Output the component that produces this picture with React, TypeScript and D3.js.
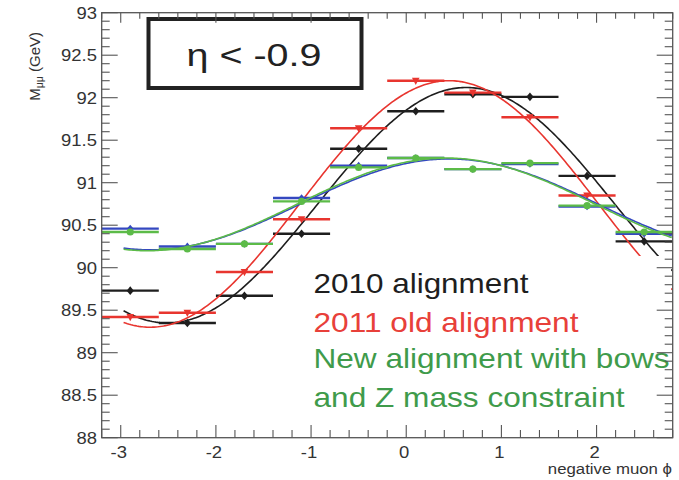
import React from "react";
import * as d3 from "d3";

// Bin centres of negative muon phi (bins are 0.6 wide)
const phiBins = [-2.9, -2.3, -1.7, -1.1, -0.5, 0.1, 0.7, 1.3, 1.9, 2.5];
const binHalfWidth = 0.3;

// Dimuon mass per phi bin (GeV)
const mass2010 = [89.73, 89.35, 89.67, 90.4, 91.4, 91.84, 92.04, 92.01, 91.08, 90.31];
const mass2011Old = [89.42, 89.47, 89.95, 90.57, 91.64, 92.2, 92.06, 91.77, 90.85, null];
const massNewBlue = [90.46, 90.25, 90.28, 90.82, 91.2, 91.29, 91.16, 91.22, 90.72, 90.4];
const massNewGreen = [90.42, 90.22, 90.28, 90.78, 91.18, 91.29, 91.16, 91.23, 90.73, 90.42];

// Sinusoidal fit parameters: mean + amplitude * cos(phi - phase)
const fitMean = [90.735, 90.75, 90.745, 90.745];
const fitAmplitude = [1.385, 1.45, 0.535, 0.545];
const fitPhase = [0.63, 0.45, 0.45, 0.42];

const yTickLabels = ["88", "88.5", "89", "89.5", "90", "90.5", "91", "91.5", "92", "92.5", "93"];
const xTickLabels = ["-3", "-2", "-1", "0", "1", "2"];

const legendLines = [
  "2010 alignment",
  "2011 old alignment",
  "New alignment with bows",
  "and Z mass constraint",
];

const W = 679;
const H = 480;
const frame = { left: 101.7, right: 672.7, top: 12.7, bottom: 437.7 };
const SX = 1.12; // horizontal text stretch
const FONT = "'Liberation Sans', Arial, sans-serif";

const COLORS = {
  black: "#1e1e1e",
  red: "#e8352f",
  blue: "#3448c0",
  green: "#5cbb48",
};

const x = d3.scaleLinear().domain([-3.2, 2.8]).range([frame.left, frame.right]);
const y = d3.scaleLinear().domain([88, 93]).range([frame.bottom, frame.top]);

function StretchText(props: {
  x: number;
  y: number;
  anchor?: "start" | "middle" | "end";
  size: number;
  fill?: string;
  children: React.ReactNode;
}) {
  return (
    <text
      transform={`translate(${props.x},${props.y}) scale(${SX},1)`}
      textAnchor={props.anchor || "start"}
      fontSize={props.size}
      fontFamily={FONT}
      fill={props.fill || "#333"}
    >
      {props.children}
    </text>
  );
}

function Series(props: {
  values: (number | null)[];
  color: string;
  marker: "circle" | "diamond" | "triangle";
  size: number;
  fitIndex: number;
  barWidth: number;
}) {
  const { values, color, marker, size, fitIndex, barWidth } = props;
  const phis = d3.range(-2.97, 2.81, 0.02);
  const line = d3
    .line<number>()
    .x((p) => x(p))
    .y((p) => y(fitMean[fitIndex] + fitAmplitude[fitIndex] * Math.cos(p - fitPhase[fitIndex])))
    .curve(d3.curveLinear);
  return (
    <g>
      <path d={line(phis) || ""} fill="none" stroke={color} strokeWidth={1.6} clipPath="url(#plotClip)" />
      {phiBins.map((phi, i) => {
        const v = values[i];
        if (v == null) return null;
        const cx = x(phi);
        const cy = y(v);
        let m: React.ReactNode;
        if (marker === "circle") m = <circle cx={cx} cy={cy} r={size} fill={color} />;
        else if (marker === "diamond")
          m = (
            <path
              d={`M${cx},${cy - size * 1.2}L${cx + size},${cy}L${cx},${cy + size * 1.2}L${cx - size},${cy}Z`}
              fill={color}
            />
          );
        else
          m = (
            <path
              d={`M${cx - size},${cy - size * 0.8}L${cx + size},${cy - size * 0.8}L${cx},${cy + size * 1.1}Z`}
              fill={color}
            />
          );
        return (
          <g key={i}>
            <line
              x1={x(phi - binHalfWidth)}
              x2={x(phi + binHalfWidth)}
              y1={cy}
              y2={cy}
              stroke={color}
              strokeWidth={barWidth}
            />
            {m}
          </g>
        );
      })}
    </g>
  );
}

export default function App() {
  const yMajor = d3.range(88, 93.001, 0.5);
  const yMinor = d3.range(88, 93.001, 0.1);
  const xMajor = d3.range(-3, 2.001, 1);
  const xMinor = d3.range(-3.2, 2.801, 0.2);
  const axisColor = "#555";

  return (
    <svg
      width={W}
      height={H}
      style={{ position: "fixed", left: 0, top: 0, background: "#fff" }}
    >
      <defs>
        <clipPath id="plotClip">
          <rect x={frame.left} y={frame.top} width={frame.right - frame.left} height={frame.bottom - frame.top} />
        </clipPath>
      </defs>
      <rect width={W} height={H} fill="#fff" />

      <Series values={mass2010} color={COLORS.black} marker="diamond" size={3.6} fitIndex={0} barWidth={2.4} />
      <Series values={mass2011Old} color={COLORS.red} marker="triangle" size={3.8} fitIndex={1} barWidth={2.4} />
      <Series values={massNewBlue} color={COLORS.blue} marker="diamond" size={3.2} fitIndex={2} barWidth={2.4} />
      <Series values={massNewGreen} color={COLORS.green} marker="circle" size={3.6} fitIndex={3} barWidth={2.4} />

      {/* Legend area */}
      <rect x={300} y={256} width={371} height={180} fill="#fff" />
      {legendLines.map((t, i) => {
        const fills = [COLORS.black, "#e8403a", "#3f9b4b", "#3f9b4b"];
        const lengths = [215, 265, 356, 311];
        const baselines = [293.3, 331.7, 368.3, 406.7];
        return (
          <text
            key={t}
            x={313.5}
            y={baselines[i]}
            fontSize={28}
            fontFamily={FONT}
            fill={fills[i]}
            textLength={lengths[i]}
            lengthAdjust="spacingAndGlyphs"
          >
            {t}
          </text>
        );
      })}

      {/* Eta selection box */}
      <rect x={148.5} y={19} width={213} height={69} fill="#fff" stroke="#222" strokeWidth={4} />
      <text
        x={254}
        y={66}
        textAnchor="middle"
        fontSize={32}
        fontFamily={FONT}
        fill="#222"
        textLength={135}
        lengthAdjust="spacingAndGlyphs"
      >
        η &lt; -0.9
      </text>

      {/* Frame */}
      <rect
        x={frame.left}
        y={frame.top}
        width={frame.right - frame.left}
        height={frame.bottom - frame.top}
        fill="none"
        stroke={axisColor}
        strokeWidth={1.3}
      />

      {/* Y ticks, left and right */}
      {yMinor.map((v, i) => {
        const isMajor = Math.abs(v * 2 - Math.round(v * 2)) < 1e-6;
        const len = isMajor ? 16 : 8;
        return (
          <g key={"yt" + i} stroke={axisColor} strokeWidth={1.1}>
            <line x1={frame.left} x2={frame.left + len} y1={y(v)} y2={y(v)} />
            <line x1={frame.right} x2={frame.right - len} y1={y(v)} y2={y(v)} />
          </g>
        );
      })}
      {/* X ticks, bottom and top */}
      {xMinor.map((v, i) => {
        const isMajor = Math.abs(v - Math.round(v)) < 1e-6;
        const len = isMajor ? 12.7 : 7.7;
        return (
          <g key={"xt" + i} stroke={axisColor} strokeWidth={1.1}>
            <line x1={x(v)} x2={x(v)} y1={frame.bottom} y2={frame.bottom - len} />
            <line x1={x(v)} x2={x(v)} y1={frame.top} y2={frame.top + len * 0.8} />
          </g>
        );
      })}

      {yMajor.map((v, i) => (
        <StretchText key={"yl" + i} x={97} y={y(v) + 6} anchor="end" size={16.5}>
          {yTickLabels[i]}
        </StretchText>
      ))}
      {xMajor.map((v, i) => (
        <StretchText key={"xl" + i} x={x(v) - 2} y={457.5} anchor="middle" size={16.5}>
          {xTickLabels[i]}
        </StretchText>
      ))}

      {/* Axis titles */}
      <StretchText x={672} y={474} anchor="end" size={15}>
        negative muon ϕ
      </StretchText>
      <text
        transform="translate(40,32) rotate(-90)"
        textAnchor="end"
        fontSize={15}
        fontFamily={FONT}
        fill="#333"
      >
        M
        <tspan fontSize={10.5} dy={3}>
          μμ
        </tspan>
        <tspan dy={-3}> (GeV)</tspan>
      </text>
    </svg>
  );
}
